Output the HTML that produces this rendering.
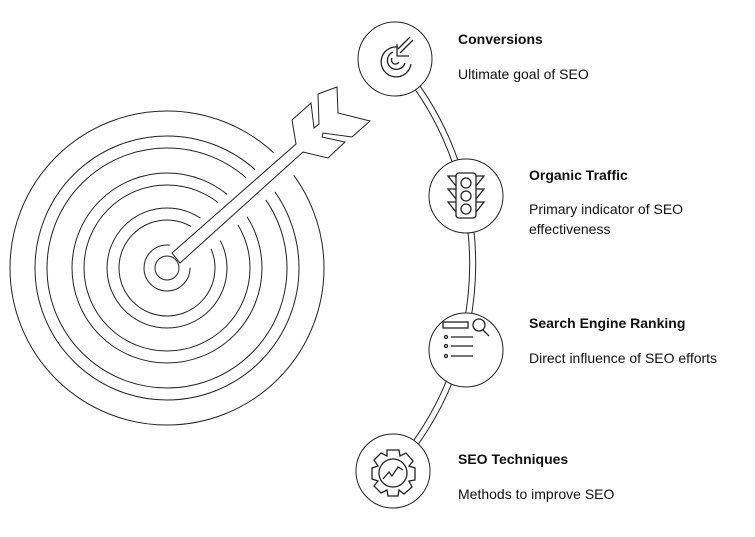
<!DOCTYPE html>
<html><head><meta charset="utf-8"><style>
body{margin:0;background:#fff;width:755px;height:537px;overflow:hidden;font-family:"Liberation Sans",Arial,sans-serif;}
svg{position:absolute;left:0;top:0}
.t{position:absolute;font-size:14px;color:#111;line-height:20px}
.b{font-weight:bold}
</style></head><body>
<svg width="755" height="537" viewBox="0 0 755 537" fill="none" stroke="#222" stroke-width="1">
<!-- connector arc -->
<path d="M395 59 A309 309 0 0 1 393 471" stroke="#222" stroke-width="7"/>
<path d="M395 59 A309 309 0 0 1 393 471" stroke="#fff" stroke-width="5"/>
<!-- target rings -->
<g>
<circle cx="167" cy="268" r="157"/><circle cx="167" cy="268" r="132"/>
<circle cx="167" cy="268" r="120"/><circle cx="167" cy="268" r="95"/>
<circle cx="167" cy="268" r="83"/><circle cx="167" cy="268" r="60"/>
<circle cx="167" cy="268" r="48"/><circle cx="167" cy="268" r="23"/>
</g>
<line x1="167" y1="268" x2="305" y2="145" stroke="#fff" stroke-width="30"/>
<!-- arrow -->
<path d="M172 253 L296 144 L292 120 L311 103 L314 128 L319 124 L318 94 L337 87 L338 113 L370 121 L352 137 L323 133 L322 137 L345 142 L328 158 L303 152 L180 263 Z" fill="#fff"/>
<circle cx="167" cy="268" r="12" fill="#fff"/>
<!-- nodes -->
<g fill="#fff">
<circle cx="395" cy="59" r="37"/><circle cx="466" cy="196" r="37"/>
<circle cx="466" cy="350" r="37"/><circle cx="393" cy="471" r="37"/>
</g>
<!-- conversions icon -->
<g stroke-width="1.3">
<path d="M398 47 A15 15 0 1 0 411 64"/>
<path d="M393 52 A9 9 0 1 0 405 63"/>
<path d="M392 58 A3 3 0 1 0 399 62"/>
<path d="M413 40 L400 53 M397 44 L397 56 L409 56"/>
<path d="M410 37 L398 49"/>
</g>
<!-- traffic light -->
<g stroke-width="1.3">
<rect x="456" y="173" width="20" height="45" rx="3"/>
<circle cx="466" cy="183" r="5"/><circle cx="466" cy="196" r="5"/><circle cx="466" cy="209" r="5"/>
<path d="M456 176 L448 176 L456 186 M456 189 L448 189 L456 199 M456 202 L448 202 L456 212"/>
<path d="M476 176 L484 176 L476 186 M476 189 L484 189 L476 199 M476 202 L484 202 L476 212"/>
</g>
<!-- ranking -->
<g stroke-width="1.3">
<rect x="443" y="322" width="25" height="6"/>
<circle cx="479" cy="325" r="6"/><line x1="483" y1="330" x2="489" y2="336"/>
<circle cx="446" cy="337" r="1.5"/><line x1="451" y1="337" x2="473" y2="337"/>
<circle cx="446" cy="346" r="1.5"/><line x1="451" y1="346" x2="473" y2="346"/>
<circle cx="446" cy="356" r="1.5"/><line x1="451" y1="356" x2="473" y2="356"/>
</g>
<!-- gear -->
<g stroke-width="1.3">
<path d="M387 450 L399 450 L400 456 L406 453 L413 461 L409 466 L415 468 L415 480 L409 481 L412 487 L404 494 L399 490 L398 496 L388 496 L387 490 L381 493 L374 486 L378 481 L372 479 L372 468 L378 466 L374 460 L381 453 L387 456 Z"/>
<circle cx="393" cy="473" r="14"/>
<path d="M383 479 L389 472 L392 476 L398 467 L403 470"/>
</g>
</svg>
<div class="t b" style="left:458px;top:29px">Conversions</div>
<div class="t" style="left:458px;top:64px">Ultimate goal of SEO</div>
<div class="t b" style="left:529px;top:165px">Organic Traffic</div>
<div class="t" style="left:529px;top:199px">Primary indicator of SEO<br>effectiveness</div>
<div class="t b" style="left:529px;top:313px">Search Engine Ranking</div>
<div class="t" style="left:529px;top:348px">Direct influence of SEO efforts</div>
<div class="t b" style="left:458px;top:449px">SEO Techniques</div>
<div class="t" style="left:458px;top:484px">Methods to improve SEO</div>
</body></html>
